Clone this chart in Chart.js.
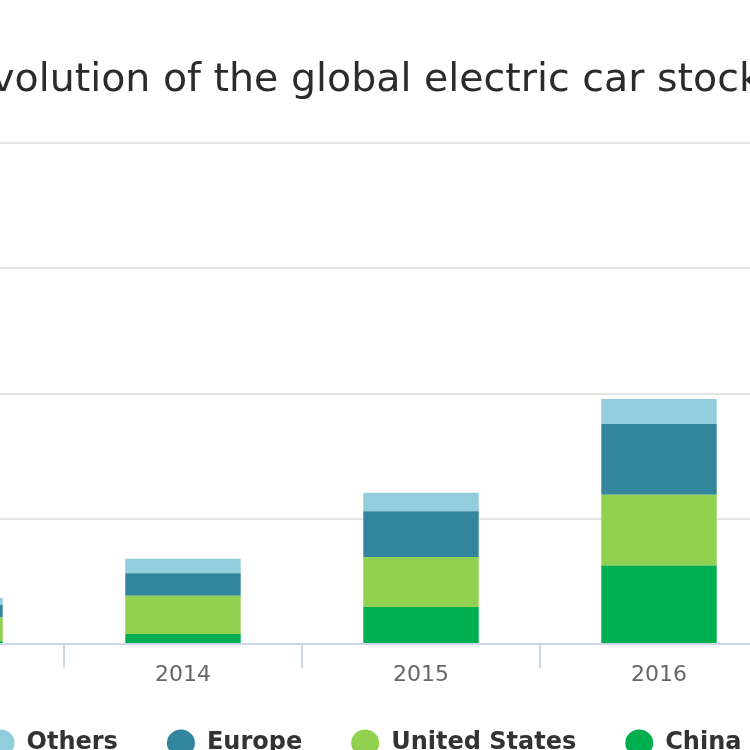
<!DOCTYPE html>
<html>
<head>
<meta charset="utf-8">
<script src="https://cdn.jsdelivr.net/npm/chart.js@4.4.1/dist/chart.umd.min.js"></script>
<style>
  html, body { margin: 0; padding: 0; background: #ffffff; overflow: hidden; width: 750px; height: 750px; }
  #wrap { position: relative; width: 750px; height: 750px; overflow: hidden; }
  #c { position: absolute; left: -174px; top: 0; }
</style>
</head>
<body>
<div id="wrap"><canvas id="c" width="1076" height="765"></canvas></div>
<script>
// Data (thousands of cars)
const years = ['2013', '2014', '2015', '2016'];
const china = [22, 80, 295, 628];
const unitedStates = [190, 305, 400, 563];
const europe = [100, 180, 365, 566];
const others = [55, 115, 147, 200];
const seriesNames = ['China', 'United States', 'Europe', 'Others'];
const seriesColors = ['#00B050', '#92D050', '#31859C', '#92CDDC'];
const yMax = 4000;
const yStep = 1000;
const titleText = 'Evolution of the global electric car stock';

const seriesValues = [china, unitedStates, europe, others];
const datasets = seriesNames.map((name, i) => ({
  label: name,
  data: seriesValues[i],
  backgroundColor: seriesColors[i],
  borderWidth: 0,
  barPercentage: 0.485,
  categoryPercentage: 1.0
}));

new Chart(document.getElementById('c'), {
  type: 'bar',
  data: { labels: years, datasets: datasets },
  options: {
    responsive: false,
    animation: false,
    devicePixelRatio: 1,
    layout: { padding: 0 },
    scales: {
      x: {
        stacked: true,
        grid: { drawOnChartArea: false, drawTicks: true, tickLength: 24, color: '#ccd6eb', lineWidth: 2, offset: true },
        border: { display: true, color: '#ccd6eb', width: 2 },
        ticks: { color: '#666666', padding: 5, font: { family: 'DejaVu Sans', size: 22, lineHeight: 0.18 } }
      },
      y: {
        stacked: true,
        position: 'right',
        min: 0,
        max: yMax,
        ticks: { display: false, stepSize: yStep },
        grid: { color: '#e6e6e6', lineWidth: 2, drawTicks: false },
        border: { display: false },
        afterFit: (scale) => { scale.width = 124; }
      }
    },
    plugins: {
      tooltip: { enabled: false },
      title: {
        display: true,
        text: titleText,
        color: '#2b2b2b',
        font: { family: 'DejaVu Sans', size: 39.5, weight: 'normal', lineHeight: 1 },
        padding: { top: 61.4, bottom: 42.1 }
      },
      legend: {
        display: true,
        position: 'bottom',
        labels: {
          usePointStyle: true,
          pointStyle: 'circle',
          pointStyleWidth: 28,
          boxHeight: 19,
          padding: 49,
          color: '#333333',
          font: { family: 'DejaVu Sans', size: 24, weight: 'bold' },
          sort: (a, b) => b.datasetIndex - a.datasetIndex
        }
      }
    }
  }
});
</script>
</body>
</html>
